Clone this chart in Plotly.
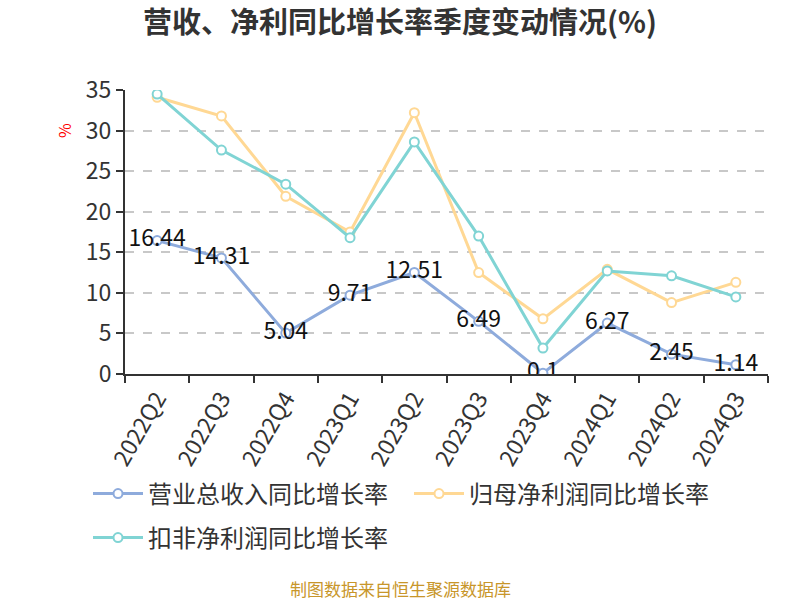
import plotly.graph_objects as go

categories = ["2022Q2", "2022Q3", "2022Q4", "2023Q1", "2023Q2", "2023Q3", "2023Q4", "2024Q1", "2024Q2", "2024Q3"]
revenue_yoy = [16.44, 14.31, 5.04, 9.71, 12.51, 6.49, 0.1, 6.27, 2.45, 1.14]
net_profit_yoy = [34.1, 31.8, 21.9, 17.5, 32.2, 12.5, 6.8, 12.9, 8.8, 11.3]
deducted_profit_yoy = [34.5, 27.6, 23.4, 16.8, 28.6, 17.0, 3.2, 12.7, 12.1, 9.5]
series_names = ["营业总收入同比增长率", "归母净利润同比增长率", "扣非净利润同比增长率"]
colors = ["#8eabdc", "#ffd894", "#80d4d4"]

FONT = "Noto Sans CJK SC, Noto Sans, sans-serif"

fig = go.Figure()
fig.add_trace(go.Scatter(
    x=categories, y=revenue_yoy, name=series_names[0],
    mode="lines+markers+text", text=[f"{v:g}" for v in revenue_yoy],
    textposition="middle center", textfont=dict(size=23, color="#111", family=FONT),
    line=dict(color=colors[0], width=3),
    marker=dict(size=9, color="white", line=dict(color=colors[0], width=2)),
    legend="legend",
))
fig.add_trace(go.Scatter(
    x=categories, y=net_profit_yoy, name=series_names[1], mode="lines+markers",
    line=dict(color=colors[1], width=3),
    marker=dict(size=9, color="white", line=dict(color=colors[1], width=2)),
    legend="legend",
))
fig.add_trace(go.Scatter(
    x=categories, y=deducted_profit_yoy, name=series_names[2], mode="lines+markers",
    line=dict(color=colors[2], width=3),
    marker=dict(size=9, color="white", line=dict(color=colors[2], width=2)),
    legend="legend2",
))

legend_font = dict(size=24, color="#333", family=FONT)
fig.update_layout(
    width=800, height=600,
    margin=dict(l=125, r=32, t=90, b=226),
    paper_bgcolor="white", plot_bgcolor="white",
    font=dict(family=FONT, color="#333"),
    title=dict(text="<b>营收、净利同比增长率季度变动情况(%)</b>", x=0.5, xanchor="center",
               y=1 - 23 / 600, yanchor="middle", font=dict(size=29, color="#333", family=FONT)),
    legend=dict(orientation="h", x=(88 - 125) / 643, xanchor="left", y=(374 - 494) / 284, yanchor="middle",
                font=legend_font, itemwidth=50,
                entrywidth=256, entrywidthmode="pixels", bgcolor="rgba(0,0,0,0)"),
    legend2=dict(orientation="h", x=(88 - 125) / 643, xanchor="left", y=(374 - 538) / 284, yanchor="middle",
                 font=legend_font, itemwidth=50, bgcolor="rgba(0,0,0,0)"),
    showlegend=True,
)
fig.update_xaxes(
    type="category", tickangle=-60, tickson="boundaries",
    showline=True, linecolor="#333", linewidth=2,
    ticks="outside", ticklen=7, tickcolor="#333", tickwidth=2,
    tickfont=dict(size=23, color="#333", family=FONT),
    showgrid=False, range=[-0.5, 9.5],
)
fig.update_yaxes(
    range=[0, 35], dtick=5, showline=True, linecolor="#333", linewidth=2,
    ticks="outside", ticklen=7, tickcolor="#333", tickwidth=2,
    tickfont=dict(size=23, color="#333", family=FONT),
    showgrid=True, gridcolor="#c8c8c8", griddash="dash", gridwidth=1.5,
    zeroline=False,
)
fig.add_annotation(text="%", xref="paper", yref="paper", x=(64 - 125) / 643, y=(374 - 131) / 284,
                   xanchor="center", yanchor="middle",
                   showarrow=False, textangle=-90, font=dict(size=16, color="red", family=FONT))
fig.add_annotation(text="制图数据来自恒生聚源数据库", xref="paper", yref="paper",
                   x=(400 - 125) / 643, y=(374 - 588) / 284, xanchor="center", yanchor="middle",
                   showarrow=False, font=dict(size=17, color="#c8962a", family=FONT))

fig.write_html("out.html")
